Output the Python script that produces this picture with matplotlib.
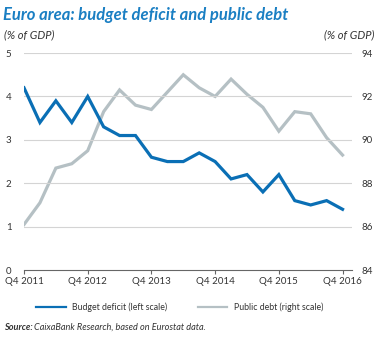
import numpy as np
import matplotlib
matplotlib.use('Agg')
from matplotlib import pyplot as plt
from matplotlib.lines import Line2D

plt.rcParams['font.family'] = ['Lato', 'DejaVu Sans']

quarters = ['Q4 2011', 'Q1 2012', 'Q2 2012', 'Q3 2012', 'Q4 2012', 'Q1 2013', 'Q2 2013',
            'Q3 2013', 'Q4 2013', 'Q1 2014', 'Q2 2014', 'Q3 2014', 'Q4 2014', 'Q1 2015',
            'Q2 2015', 'Q3 2015', 'Q4 2015', 'Q1 2016', 'Q2 2016', 'Q3 2016', 'Q4 2016']
deficit = [4.2, 3.4, 3.9, 3.4, 4.0, 3.3, 3.1, 3.1, 2.6, 2.5, 2.5, 2.7, 2.5, 2.1,
           2.2, 1.8, 2.2, 1.6, 1.5, 1.6, 1.4]
debt = [86.1, 87.1, 88.7, 88.9, 89.5, 91.3, 92.3, 91.6, 91.4, 92.2, 93.0, 92.4, 92.0, 92.8,
        92.1, 91.5, 90.4, 91.3, 91.2, 90.1, 89.3]
left_ticks = [0, 1, 2, 3, 4, 5]
right_ticks = [84, 86, 88, 90, 92, 94]

blue = '#0a6fb5'
grey = '#b5c0c4'
title_blue = '#1a7fc3'
txt = '#333333'

fig = plt.figure(figsize=(3.78, 3.38), dpi=100)
ax = fig.add_axes([0.0635, 0.201, 0.868, 0.642])
ax2 = ax.twinx()

x = np.arange(len(quarters))
ax2.plot(x, debt, color=grey, lw=2.3, solid_joinstyle='miter')
ax.plot(x, deficit, color=blue, lw=2.3, solid_joinstyle='miter', zorder=5)
ax.set_zorder(ax2.get_zorder() + 1)
ax.patch.set_visible(False)

ax.set_xlim(0, 20.6)
ax.set_ylim(0, 5)
ax2.set_ylim(84, 94)
ax.set_yticks(left_ticks)
ax2.set_yticks(right_ticks)
for yv in left_ticks[1:]:
    ax.axhline(yv, color='#d4d4d4', lw=0.8, zorder=0)

ax.set_xticks(x[::4])
ax.set_xticklabels(quarters[::4])

for a in (ax, ax2):
    for s in a.spines.values():
        s.set_visible(False)
ax.spines['bottom'].set_visible(True)
ax.spines['bottom'].set_color('#666666')
ax.spines['bottom'].set_linewidth(0.8)
ax.spines['bottom'].set_bounds(0, 20.6)

ax.tick_params(axis='x', length=3, width=0.8, color='#666666', labelsize=7, labelcolor=txt, pad=2)
ax.tick_params(axis='y', length=0, labelsize=7, labelcolor=txt, pad=9)
ax2.tick_params(axis='y', length=0, labelsize=7, labelcolor=txt, pad=7)

fig.text(0.008, 0.955, 'Euro area: budget deficit and public debt', color=title_blue,
         fontsize=12, fontweight='bold', fontstyle='italic', va='center')
fig.text(0.01, 0.897, '(% of GDP)', fontsize=8, fontstyle='italic', color=txt, va='center')
fig.text(0.99, 0.897, '(% of GDP)', fontsize=8, fontstyle='italic', color=txt, va='center', ha='right')

handles = [Line2D([], [], color=blue, lw=1.6), Line2D([], [], color=grey, lw=1.6)]
fig.legend(handles, ['Budget deficit (left scale)', 'Public debt (right scale)'],
           loc='center', bbox_to_anchor=(0.475, 0.092), ncol=2, frameon=False,
           fontsize=6.3, handlelength=3.4, columnspacing=3.5, handletextpad=0.7,
           labelcolor=txt)

fig.text(0.01, 0.032, 'Source:', fontsize=6.6, fontweight='bold', fontstyle='italic', color=txt, va='center')
fig.text(0.09, 0.032, 'CaixaBank Research, based on Eurostat data.', fontsize=6.6,
         fontstyle='italic', color=txt, va='center')

fig.savefig('out.png', dpi=100)
